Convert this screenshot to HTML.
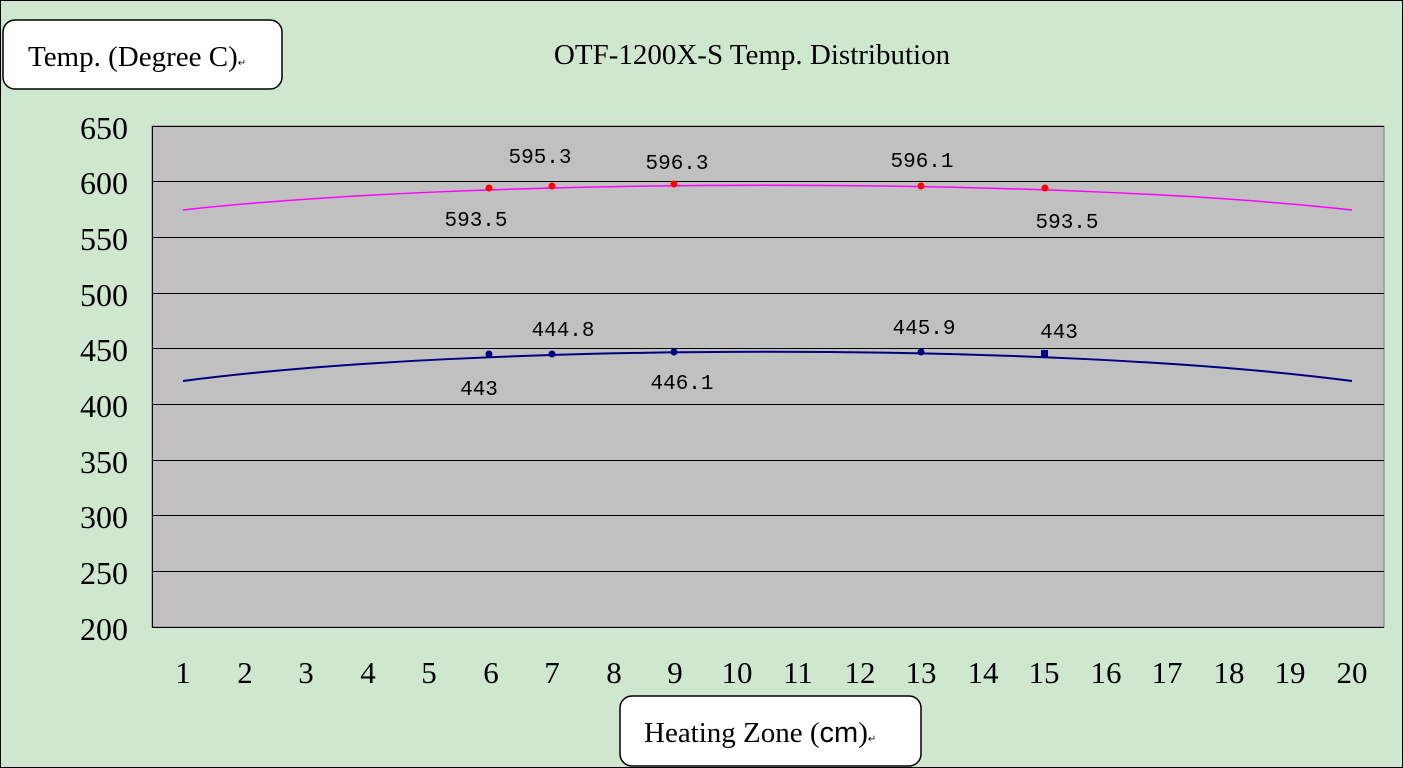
<!DOCTYPE html>
<html><head><meta charset="utf-8"><style>
html,body{margin:0;padding:0;}
body{width:1403px;height:768px;overflow:hidden;background:#cfe7cf;}
</style></head><body>
<svg width="1403" height="768" xmlns="http://www.w3.org/2000/svg" style="display:block">
<rect x="0.5" y="0.5" width="1402" height="767" fill="#cfe7cf" stroke="#000" stroke-width="1"/>
<rect x="152" y="126" width="1232" height="501" fill="#c0c0c0" stroke="#808080" stroke-width="1"/>
<g stroke="#000" stroke-width="1">
<line x1="152" y1="126.5" x2="1384" y2="126.5"/>
<line x1="152" y1="181.5" x2="1384" y2="181.5"/>
<line x1="152" y1="237.5" x2="1384" y2="237.5"/>
<line x1="152" y1="293.5" x2="1384" y2="293.5"/>
<line x1="152" y1="348.5" x2="1384" y2="348.5"/>
<line x1="152" y1="404.5" x2="1384" y2="404.5"/>
<line x1="152" y1="460.5" x2="1384" y2="460.5"/>
<line x1="152" y1="515.5" x2="1384" y2="515.5"/>
<line x1="152" y1="571.5" x2="1384" y2="571.5"/>
<line x1="152" y1="627.5" x2="1384" y2="627.5"/>
<line x1="152.5" y1="126" x2="152.5" y2="627"/>
</g>
<g font-family="Liberation Serif, serif" font-size="32" text-anchor="end" fill="#000">
<text x="128" y="139">650</text><text x="128" y="194">600</text><text x="128" y="250">550</text>
<text x="128" y="306">500</text><text x="128" y="361">450</text><text x="128" y="417">400</text>
<text x="128" y="473">350</text><text x="128" y="528">300</text><text x="128" y="584">250</text>
<text x="128" y="640">200</text>
</g>
<g font-family="Liberation Serif, serif" font-size="31" text-anchor="middle" fill="#000">
<text x="183" y="683">1</text><text x="245" y="683">2</text><text x="306" y="683">3</text>
<text x="368" y="683">4</text><text x="429" y="683">5</text><text x="491" y="683">6</text>
<text x="552" y="683">7</text><text x="614" y="683">8</text><text x="675" y="683">9</text>
<text x="737" y="683">10</text><text x="798" y="683">11</text><text x="860" y="683">12</text>
<text x="921" y="683">13</text><text x="983" y="683">14</text><text x="1044" y="683">15</text>
<text x="1106" y="683">16</text><text x="1167" y="683">17</text><text x="1229" y="683">18</text>
<text x="1290" y="683">19</text><text x="1352" y="683">20</text>
</g>
<path d="M183,210 C480,177 1055,177 1352,210" fill="none" stroke="#ff00ff" stroke-width="1.5"/>
<path d="M183,381 C480,342 1055,342 1352,381" fill="none" stroke="#000080" stroke-width="2"/>
<g fill="#ff0000">
<circle cx="489" cy="188" r="3.5"/><circle cx="552" cy="186" r="3.5"/><circle cx="674" cy="184" r="3.5"/>
<circle cx="921" cy="186" r="3.5"/><circle cx="1045" cy="188" r="3.5"/>
</g>
<g fill="#000080">
<circle cx="489" cy="354" r="3.5"/><circle cx="552" cy="354" r="3.5"/><circle cx="674" cy="352" r="3.5"/>
<circle cx="921" cy="352" r="3.5"/><rect x="1041" y="350" width="7" height="7"/>
</g>
<g font-family="Liberation Mono, monospace" font-size="21" text-anchor="middle" fill="#000">
<text x="476" y="226">593.5</text><text x="540" y="163">595.3</text><text x="677" y="169">596.3</text>
<text x="922" y="167">596.1</text><text x="1067" y="228">593.5</text>
<text x="479" y="395">443</text><text x="563" y="336">444.8</text><text x="682" y="389">446.1</text>
<text x="924" y="334">445.9</text><text x="1059" y="338">443</text>
</g>
<text x="752" y="64" font-family="Liberation Serif, serif" font-size="29" text-anchor="middle">OTF-1200X-S Temp. Distribution</text>
<rect x="3" y="20" width="279" height="69" rx="12" fill="#fff" stroke="#000" stroke-width="1.5"/>
<text x="28" y="66" font-family="Liberation Serif, serif" font-size="29">Temp. (Degree C)<tspan font-size="10">↵</tspan></text>
<rect x="620" y="696" width="301" height="70" rx="12" fill="#fff" stroke="#000" stroke-width="1.5"/>
<text x="644" y="742" font-family="Liberation Serif, serif" font-size="29">Heating Zone (<tspan font-family="Liberation Sans, sans-serif">cm</tspan>)<tspan font-size="10">↵</tspan></text>
</svg>
</body></html>
